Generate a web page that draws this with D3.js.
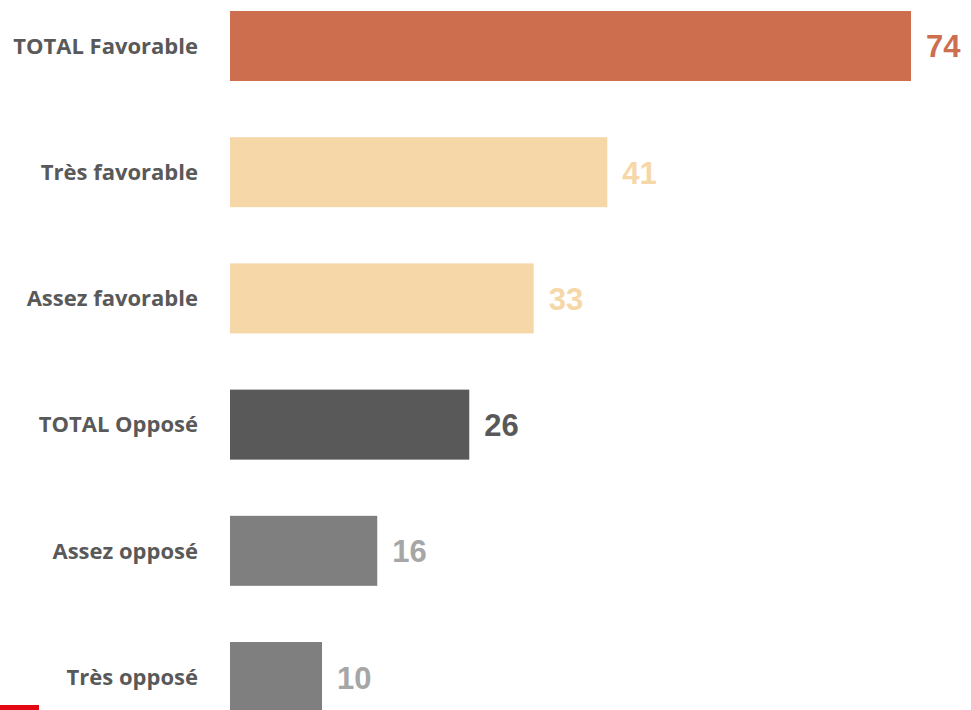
<!DOCTYPE html>
<html><head><meta charset="utf-8">
<script src="https://cdn.jsdelivr.net/npm/d3@7"></script>
<style>html,body{margin:0;padding:0;background:#fff;overflow:hidden}</style>
</head><body>
<svg id="chart" width="971" height="710"></svg>
<script>
const categories = ["TOTAL Favorable","Très favorable","Assez favorable","TOTAL Opposé","Assez opposé","Très opposé"];
const values = [74, 41, 33, 26, 16, 10];
const barColors = ["#CD6E4F","#F6D7A7","#F6D7A7","#595959","#7F7F7F","#7F7F7F"];
const valueColors = ["#CD6E4F","#F6D7A7","#F6D7A7","#595959","#A6A6A6","#A6A6A6"];

const svg = d3.select("#chart");
const x = d3.scaleLinear().domain([0, 74]).range([230, 911]);
const step = 126.2;
const y = d3.scaleBand().domain(categories)
  .range([11 - 0.2225*step, 11 - 0.2225*step + 6*step])
  .paddingInner(0.4453).paddingOuter(0.2225);

svg.selectAll("rect.bar").data(values).join("rect")
  .attr("class","bar")
  .attr("x", x(0))
  .attr("y", (d,i)=>y(categories[i]))
  .attr("width", d=>x(d)-x(0))
  .attr("height", y.bandwidth())
  .attr("fill", (d,i)=>barColors[i]);

svg.selectAll("text.cat").data(categories).join("text")
  .attr("class","cat")
  .attr("x", 198)
  .attr("y", d=>y(d)+y.bandwidth()/2)
  .attr("dy","0.35em")
  .attr("text-anchor","end")
  .attr("font-family","'Open Sans', sans-serif")
  .attr("font-weight",700)
  .attr("font-size",22)
  .attr("fill","#595959")
  .text(d=>d);

svg.selectAll("text.val").data(values).join("text")
  .attr("class","val")
  .attr("x", d=>x(d)+15)
  .attr("y", (d,i)=>y(categories[i])+y.bandwidth()/2)
  .attr("dy","0.37em")
  .attr("font-family","'Liberation Sans', Arial, sans-serif")
  .attr("font-weight",700)
  .attr("font-size",31)
  .attr("fill",(d,i)=>valueColors[i])
  .text(d=>d);

svg.append("rect").attr("x",0).attr("y",705).attr("width",39).attr("height",5).attr("fill","#E30613");
</script>
</body></html>
